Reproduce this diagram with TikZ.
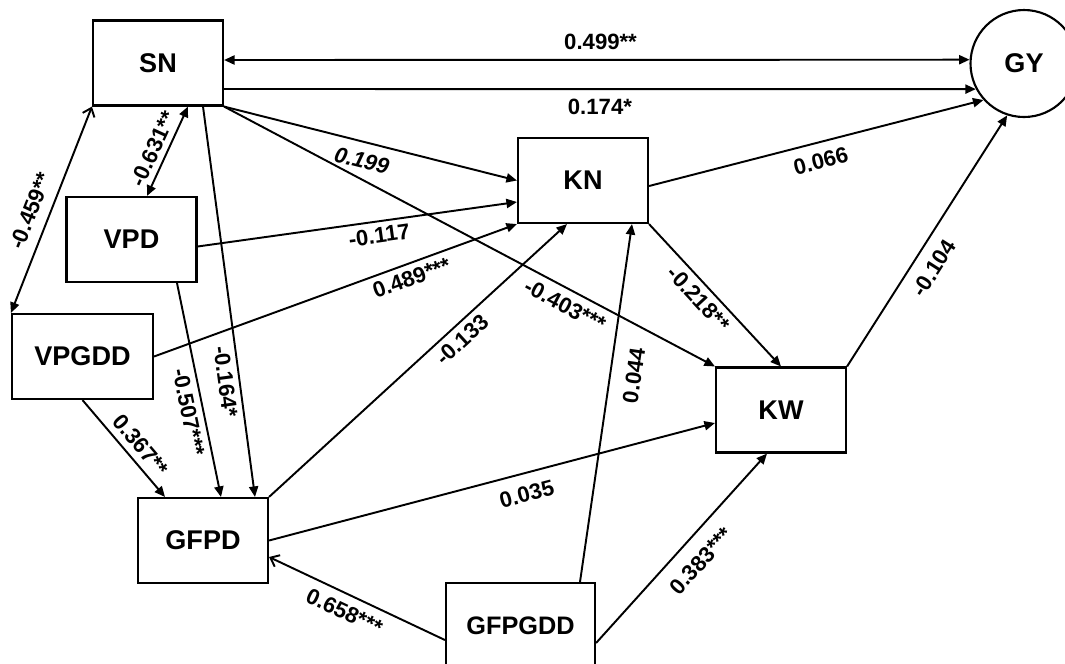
\documentclass[tikz,border=0pt]{standalone}
\usepackage{fontspec}
\setmainfont{Liberation Sans}
\usetikzlibrary{arrows.meta}

\begin{document}
\begin{tikzpicture}[>={Triangle[length=3pt,width=2.6pt]},
    var/.style={draw,line width=0.6pt,minimum width=1.30cm,minimum height=0.85cm,inner sep=1pt,font=\bfseries\fontsize{7.7}{9}\selectfont},
    coef/.style={sloped,inner sep=1pt,font=\bfseries\fontsize{6.3}{7}\selectfont},
    linea/.style={line width=0.55pt}]
        \useasboundingbox (0,0) rectangle (10.65,-6.63);
        \node[var] (sn) at (1.58,-0.63) {SN};
        \node[var] (vpd) at (1.315,-2.395) {VPD};
        \node[var,minimum width=1.41cm] (vpgdd) at (0.825,-3.565) {VPGDD};
        \node[var] (gfpd) at (2.03,-5.405) {GFPD};
        \node[var] (kn) at (5.83,-1.805) {KN};
        \node[var] (kw) at (7.81,-4.10) {KW};
        \node[var,minimum width=1.49cm,font=\bfseries\fontsize{7.2}{9}\selectfont] (gfpgdd) at (5.205,-6.255) {GFPGDD};
        \node[draw,circle,line width=0.6pt,minimum size=1.07cm,inner sep=0pt,font=\bfseries\fontsize{7.7}{9}\selectfont] (gy) at (10.24,-0.635) {GY};
        \draw[<->,linea] ([yshift=0.03cm]sn.east) -- (gy.176) node[coef,above=1.6pt,pos=0.505] {0.499**};
        \draw[->,linea] ([yshift=-0.26cm]sn.east) -- (gy.208) node[coef,below=1.5pt,pos=0.5] {0.174*};
        \draw[->,linea] ([yshift=-0.055cm]kn.east) -- (gy.222) node[coef,below=1.75pt,pos=0.5] {0.066};
        \draw[->,linea] (kw.north east) -- (gy.252) node[coef,below=2.3pt,pos=0.435] {-0.104};
        \draw[->,linea] (sn.south east) -- (kn.west) node[coef,below=1.75pt,pos=0.486,font=\bfseries\itshape\fontsize{6.3}{7}\selectfont] {0.199};
        \draw[->,linea] (sn.south east) -- (kw.north west) node[coef,below=1.1pt,pos=0.71] {-0.403***};
        \draw[->,linea] ([yshift=-0.07cm]vpd.east) -- ([yshift=-0.215cm]kn.west) node[coef,below=0.45pt,pos=0.563] {-0.117};
        \draw[->,linea] (vpgdd.east) -- (kn.south west) node[coef,below=0.6pt,pos=0.696] {0.489***};
        \draw[<->,linea] ([xshift=0.155cm]vpd.north) -- ([xshift=0.30cm]sn.south) node[coef,above=0.5pt,pos=0.46] {-0.631**};
        \draw[{Triangle[length=3pt,width=2.6pt]}-{Straight Barb[length=2.2pt,width=3.6pt]},linea] (vpgdd.north west) -- (sn.south west) node[coef,above=2pt,pos=0.46] {-0.459**};
        \draw[->,linea] ([xshift=0.455cm]vpd.south) -- ([xshift=0.18cm]gfpd.north) node[coef,below=0.65pt,pos=0.59] {-0.507***};
        \draw[->,linea] ([xshift=0.45cm]sn.south) -- ([xshift=0.52cm]gfpd.north) node[coef,below=0.45pt,pos=0.7] {-0.164*};
        \draw[->,linea] (vpgdd.south) -- ([xshift=-0.38cm]gfpd.north) node[coef,above=0.75pt,pos=0.565] {0.367**};
        \draw[->,linea] (gfpd.north east) -- ([xshift=-0.16cm]kn.south) node[coef,below=0.6pt,pos=0.615] {-0.133};
        \draw[->,linea] (gfpd.east) -- ([yshift=-0.13cm]kw.west) node[coef,below=2.4pt,pos=0.566] {0.035};
        \draw[{Straight Barb[length=2.2pt,width=3.6pt]}-,linea] ([yshift=-0.165cm]gfpd.east) -- ([yshift=-0.145cm]gfpgdd.west) node[coef,below=1.4pt,pos=0.47] {0.658***};
        \draw[->,linea] ([xshift=0.595cm]gfpgdd.north) -- ([xshift=0.49cm]kn.south) node[coef,below=3.2pt,pos=0.586] {0.044};
        \draw[->,linea] ([yshift=-0.175cm]gfpgdd.east) -- ([xshift=-0.14cm]kw.south) node[coef,below=3pt,pos=0.515] {0.383***};
        \draw[->,linea] (kn.south east) -- (kw.north) node[coef,below=0.6pt,pos=0.457] {-0.218**};
      \end{tikzpicture}
\end{document}
